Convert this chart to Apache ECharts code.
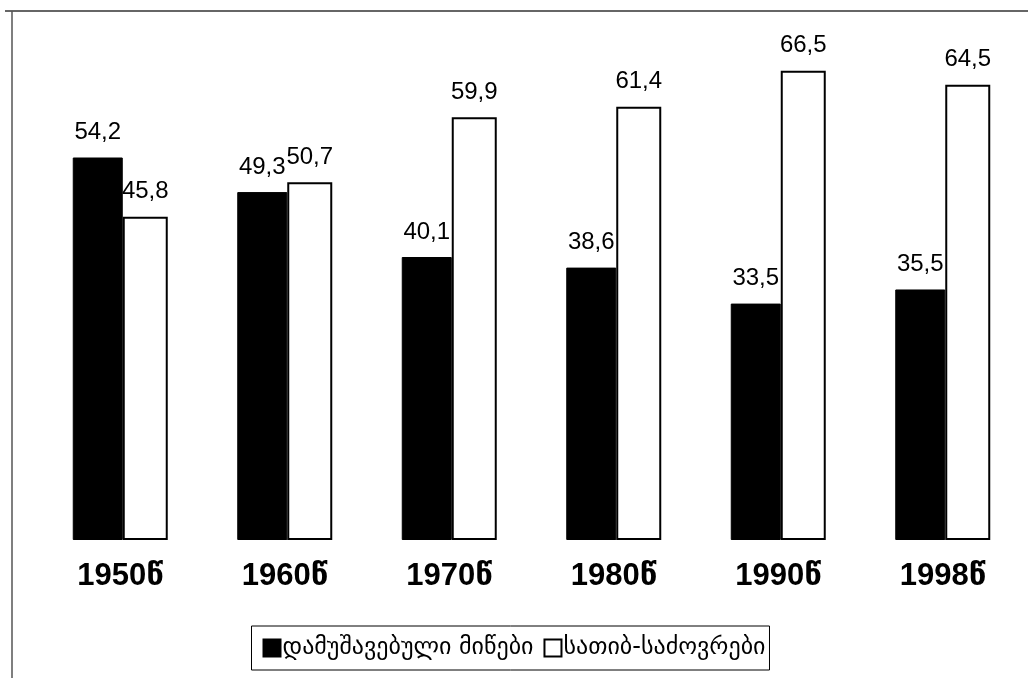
<!DOCTYPE html>
<html>
<head>
<meta charset="utf-8">
<script src="https://cdn.jsdelivr.net/npm/echarts@6/dist/echarts.min.js"></script>
<style>
html,body{margin:0;padding:0;background:#fff;}
#chart{width:1028px;height:678px;}
</style>
</head>
<body>
<div id="chart"></div>
<script>
const categories = ['1950წ', '1960წ', '1970წ', '1980წ', '1990წ', '1998წ'];
const cultivated = [54.2, 49.3, 40.1, 38.6, 33.5, 35.5];
const pastures = [45.8, 50.7, 59.9, 61.4, 66.5, 64.5];
const seriesNames = ['დამუშავებული მიწები', 'სათიბ-საძოვრები'];

const chart = echarts.init(document.getElementById('chart'));
const fmt = p => String(p.value).replace('.', ',');
const labelStyle = {
  show: true, position: 'top', distance: 13, formatter: fmt,
  color: '#000', fontSize: 24, fontFamily: "'Liberation Sans', Arial, sans-serif"
};
chart.setOption({
  backgroundColor: '#fff',
  animation: false,
  grid: { left: 38, right: 3, top: 46, bottom: 138 },
  xAxis: {
    type: 'category', data: categories,
    axisLine: { show: false }, axisTick: { show: false },
    axisLabel: {
      color: '#000', fontSize: 31, fontWeight: 'bold', margin: 21,
      fontFamily: "'Liberation Sans', 'DejaVu Sans', sans-serif"
    }
  },
  yAxis: { type: 'value', min: 0, max: 70, show: false, splitLine: { show: false } },
  legend: {
    bottom: 8, left: 'center',
    data: seriesNames,
    icon: 'rect', itemWidth: 17, itemHeight: 17, itemGap: 10,
    borderColor: '#000', borderWidth: 1, padding: [10, 4, 10, 11],
    backgroundColor: '#fff',
    textStyle: { color: '#000', fontSize: 24, fontFamily: "'DejaVu Sans', sans-serif", padding: [0, 0, 0, -3] }
  },
  graphic: [
    { type: 'line', shape: { x1: 5, y1: 11, x2: 1028, y2: 11 }, style: { stroke: '#333', lineWidth: 1.5 } },
    { type: 'line', shape: { x1: 12, y1: 11, x2: 12, y2: 678 }, style: { stroke: '#555', lineWidth: 1.5 } }
  ],
  series: [
    {
      name: seriesNames[0], type: 'bar', data: cultivated,
      barWidth: 50, barGap: '0%',
      itemStyle: { color: '#000', borderColor: '#000', borderWidth: 1 },
      label: labelStyle
    },
    {
      name: seriesNames[1], type: 'bar', data: pastures,
      barWidth: 45,
      itemStyle: { color: '#fff', borderColor: '#000', borderWidth: 2 },
      label: labelStyle
    }
  ]
});
</script>
</body>
</html>
